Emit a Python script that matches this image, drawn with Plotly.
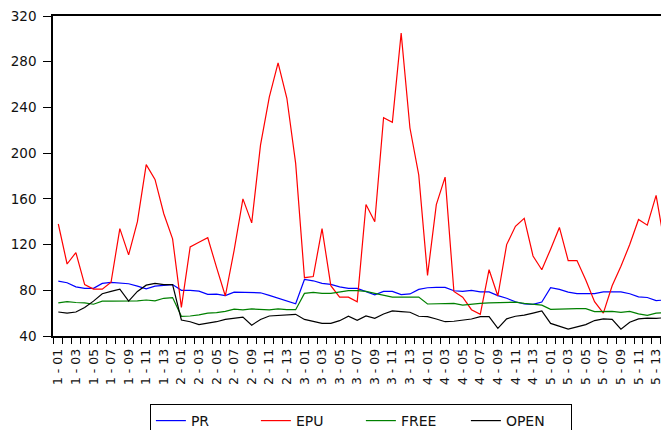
import plotly.graph_objects as go

cross_sections = [1, 2, 3, 4, 5]
periods = list(range(1, 15))
categories = [f"{c} - {p:02d}" for c in cross_sections for p in periods]

PR = [88, 86.6, 83, 81.7, 81.7, 86, 87, 86.6, 85.7, 83.7, 81.3, 83.7, 84.3, 85,
      80, 80, 79.3, 76.4, 76.7, 75.3, 78.4, 78.4, 78.4, 77.8, 75.5, 73.2, 70.9, 68.2,
      89.5, 88.3, 86, 85.2, 83, 81.7, 81.7, 79, 76, 79, 79, 76.2, 76.8, 80.8, 82.2, 82.5,
      82.5, 79.6, 79, 80, 78.6, 78.6, 75.3, 73, 70, 68, 67.7, 69.7, 82.2, 80.8, 78.4, 77,
      77, 77, 78.6, 78.6, 78.6, 77, 74.3, 73.7, 71, 71.5]
EPU = [138, 103, 113, 85, 81, 81, 87, 134, 111, 140, 190, 177, 147, 125,
       65, 118, 122, 126, 100, 75, 115, 160, 139, 207, 249, 279, 248, 191,
       91, 92, 134, 84, 74, 74, 70, 155, 140, 231, 227, 305, 222, 181, 93, 155,
       179, 79, 74, 63, 59, 98, 75, 120, 136, 143, 110, 98, 116, 135, 106, 106,
       89, 70, 60, 84, 101, 120, 142, 137, 163, 119]
FREE = [69, 70, 69.3, 69, 67.8, 70.5, 70.5, 70.5, 70.2, 70.8, 71.5, 70.8, 73, 73.6,
        57.2, 57.5, 58.5, 60, 60.5, 61.6, 63.5, 62.8, 63.7, 63.4, 62.8, 63.7, 63, 63,
        77.3, 78.2, 77.3, 77.3, 78.8, 79.7, 79.7, 79, 77.3, 75.5, 74, 74, 74.3, 74, 68, 68.3,
        68.5, 68.5, 67, 67.9, 68.5, 69, 69.3, 69.3, 69.6, 68.5, 67.6, 67, 63.3, 63.3, 63.8, 64,
        64, 61.3, 61.3, 61.6, 60.7, 61.6, 59.3, 58, 60, 60.4]
OPEN = [61, 60, 61, 65, 70.5, 77, 79, 81, 70.5, 79, 84.5, 86, 85, 85,
        54, 52.5, 50, 51, 52.5, 54.5, 55.5, 56.5, 49.5, 54.5, 57.5, 58.1, 58.2, 59,
        54.5, 52.5, 51, 51, 53.4, 57.3, 53.7, 57.6, 55.4, 59.2, 62, 61.4, 60.8, 57.3, 57, 54.9,
        52.5, 52.9, 53.6, 54.9, 57, 57, 46.7, 55, 57.3, 58.2, 60, 61.9, 51, 48.5, 46, 48,
        50, 53.5, 55, 54.6, 46, 52, 55, 55.6, 55.4, 56]

y_ticks = [40, 80, 120, 160, 200, 240, 280, 320]

series = [("PR", PR, "#0000FF"), ("EPU", EPU, "#FF0000"),
          ("FREE", FREE, "#008000"), ("OPEN", OPEN, "#000000")]

xs = list(range(len(categories)))
fig = go.Figure()
for name, vals, col in series:
    fig.add_trace(go.Scatter(x=xs, y=vals, mode="lines", name=name,
                             line=dict(color=col, width=1.2)))

label_idx = xs[::2]
# The figure is a little wider than the window: its right part is cropped, like the reference.
fig.update_layout(
    width=675, height=430,
    margin=dict(l=53, r=0, t=16, b=94, autoexpand=False),
    paper_bgcolor="white", plot_bgcolor="white",
    font=dict(family="DejaVu Sans", color="#111111"),
    showlegend=True,
    legend=dict(orientation="h", x=0.495, xanchor="center", y=-0.2125, yanchor="top",
                bordercolor="#000000", borderwidth=1, font=dict(size=14, family="DejaVu Sans"),
                bgcolor="white", traceorder="normal", entrywidth=60),
)
fig.update_xaxes(
    range=[-0.603, 70.15], automargin=False,
    tickmode="array", tickvals=label_idx, ticktext=[categories[i] for i in label_idx],
    tickangle=-90, ticks="outside", ticklen=6, tickcolor="rgba(0,0,0,0)",
    tickfont=dict(size=12.5, family="DejaVu Sans", color="#111111"),
    minor=dict(tickmode="linear", tick0=-0.5, dtick=1, ticks="outside", ticklen=6,
               tickcolor="#000000", tickwidth=1, showgrid=False),
    showline=True, linecolor="#000000", linewidth=1.5, mirror=True,
    showgrid=False, zeroline=False,
)
fig.update_yaxes(
    range=[40, 320], tickvals=y_ticks, automargin=False,
    ticks="outside", ticklen=8, tickcolor="#000000", tickwidth=1,
    tickfont=dict(size=13.5, family="DejaVu Sans", color="#111111"),
    showline=True, linecolor="#000000", linewidth=1.5, mirror=False,
    showgrid=False, zeroline=False, ticklabelstandoff=4,
)
fig.write_html("out.html", config={"displayModeBar": False},
               post_script="document.body.style.margin='0';document.body.style.overflow='hidden';")
